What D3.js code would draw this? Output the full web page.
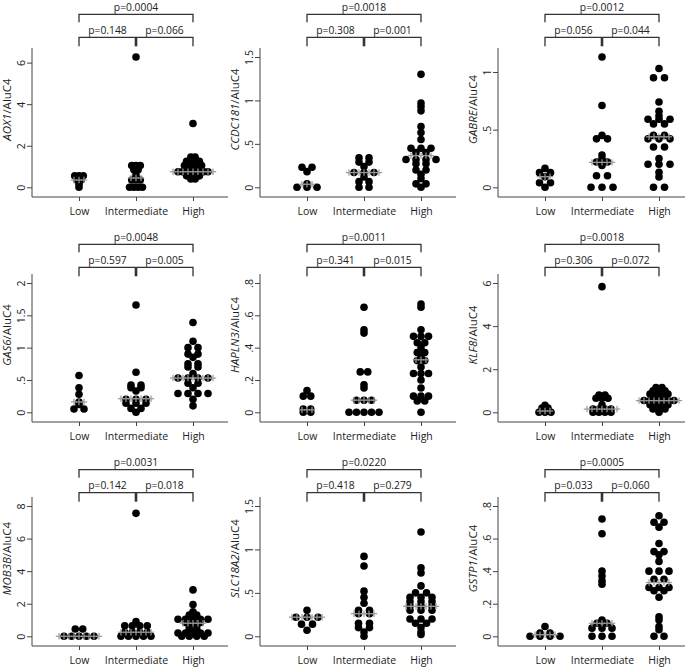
<!DOCTYPE html>
<html><head><meta charset="utf-8">
<script src="https://cdn.jsdelivr.net/npm/d3@7"></script>
<style>body{margin:0;background:#fff}svg{display:block}text{font-family:"Open Sans",sans-serif;fill:#222}</style>
</head><body><svg id="c" width="685" height="667"></svg>
<script>
// ---------------- data ----------------
const groups = ["Low", "Intermediate", "High"];
const genes = ["AOX1", "CCDC181", "GABRE", "GAS6", "HAPLN3", "KLF8", "MOB3B", "SLC18A2", "GSTP1"];
const yTicks = [[0,2,4,6],[0,.5,1,1.5],[0,.5,1],[0,.5,1,1.5,2],[0,.2,.4,.6,.8],[0,2,4,6],[0,2,4,6,8],[0,.5,1,1.5],[0,.2,.4,.6,.8]];
const pOverall = ["p=0.0004","p=0.0018","p=0.0012","p=0.0048","p=0.0011","p=0.0018","p=0.0031","p=0.0220","p=0.0005"];
const pLowInt  = ["p=0.148","p=0.308","p=0.056","p=0.597","p=0.341","p=0.306","p=0.142","p=0.418","p=0.033"];
const pIntHigh = ["p=0.066","p=0.001","p=0.044","p=0.005","p=0.015","p=0.072","p=0.018","p=0.279","p=0.060"];
const medians = [[0.35,0.45,0.75],[0.035,0.17,0.365],[0.092,0.216,0.438],[0.16,0.21,0.53],[0.015,0.075,0.325],[0.06,0.15,0.54],[0,0.25,0.8],[0.22,0.26,0.345],[0.01,0.08,0.33]];

const AOX1 = [
  [0.55,0.55,0.55,0.35,0.35,0.15,0],
  [6.27,1.05,1.05,1.05,0.85,0.85,0.6,0.45,0.35,0.35,0.35,0,0,0,0],
  [3.07,1.45,1.45,1.25,1.25,1.25,1.25,1.05,1.05,1.05,1.05,1.05,0.75,0.75,0.75,0.75,0.75,0.75,0.75,0.75,0.55,0.55,0.55,0.55,0.4,0.4]];
const CCDC181 = [
  [0.23,0.23,0.18,0.04,0,0,0],
  [0.34,0.34,0.29,0.29,0.24,0.17,0.17,0.17,0.12,0.065,0.065,0,0],
  [1.3,0.97,0.93,0.88,0.7,0.63,0.55,0.45,0.45,0.45,0.4,0.4,0.32,0.32,0.32,0.32,0.27,0.27,0.2,0.2,0.15,0.1,0.04,0.04,0]];
const GABRE = [
  [0.164,0.127,0.127,0.092,0.04,0.04,0],
  [1.13,0.71,0.45,0.42,0.42,0.28,0.25,0.22,0.22,0.19,0.1,0.1,0,0,0],
  [1.03,0.95,0.95,0.74,0.66,0.62,0.59,0.59,0.59,0.55,0.55,0.45,0.45,0.42,0.42,0.42,0.35,0.35,0.25,0.2,0.2,0.2,0.13,0.09,0,0]];
const GAS6 = [
  [0.57,0.38,0.28,0.16,0.12,0.05,0.05],
  [1.66,0.62,0.42,0.42,0.38,0.38,0.33,0.2,0.2,0.2,0.14,0.14,0.14,0.06,0.06,0],
  [1.39,1.1,1.0,1.0,0.9,0.9,0.85,0.75,0.75,0.7,0.7,0.6,0.53,0.53,0.53,0.53,0.45,0.45,0.38,0.29,0.29,0.29,0.29,0.2,0.1]];
const HAPLN3 = [
  [0.135,0.1,0.1,0.02,0.02,0,0],
  [0.65,0.51,0.49,0.25,0.25,0.17,0.15,0.075,0.075,0.075,0,0,0,0,0],
  [0.67,0.65,0.51,0.47,0.47,0.47,0.43,0.43,0.4,0.37,0.37,0.34,0.32,0.32,0.28,0.24,0.24,0.24,0.2,0.15,0.1,0.1,0.1,0.07,0.07,0]];
const KLF8 = [
  [0.33,0.2,0.2,0.05,0,0,0],
  [5.83,0.8,0.8,0.65,0.65,0.65,0.35,0.15,0.15,0.15,0.15,0,0,0,0],
  [1.15,1.15,1.0,1.0,1.0,0.85,0.85,0.85,0.85,0.7,0.7,0.7,0.55,0.55,0.55,0.55,0.55,0.55,0.35,0.35,0.35,0.35,0.15,0.15,0.15,0]];
const MOB3B = [
  [0.45,0.45,0,0,0,0,0],
  [7.55,0.9,0.65,0.65,0.65,0.65,0.25,0.25,0.25,0.25,0,0,0,0,0],
  [2.85,1.95,1.5,1.3,1.3,1.05,1.05,1.05,1.05,1.05,0.85,0.85,0.85,0.6,0.6,0.4,0.4,0.2,0.2,0.2,0.2,0.2,0,0,0,0]];
const SLC18A2 = [
  [0.3,0.22,0.22,0.22,0.14,0.14,0.07],
  [0.92,0.81,0.52,0.45,0.38,0.3,0.3,0.26,0.26,0.15,0.15,0.1,0.1,0.05,0],
  [1.2,0.79,0.73,0.58,0.5,0.5,0.45,0.45,0.45,0.4,0.4,0.4,0.35,0.35,0.35,0.3,0.3,0.3,0.2,0.2,0.2,0.15,0.15,0.1,0.05,0.02]];
const GSTP1 = [
  [0.06,0.02,0.02,0,0,0,0],
  [0.72,0.63,0.4,0.37,0.34,0.32,0.1,0.08,0.08,0.05,0.05,0.05,0,0,0],
  [0.74,0.7,0.7,0.67,0.57,0.52,0.52,0.5,0.46,0.4,0.4,0.4,0.35,0.35,0.3,0.3,0.3,0.28,0.28,0.24,0.12,0.1,0.06,0.04,0,0]];
const geneData = [AOX1, CCDC181, GABRE, GAS6, HAPLN3, KLF8, MOB3B, SLC18A2, GSTP1];

// ---------------- layout ----------------
const colAxisX = [32, 260, 498];
const rowGeom = [
  {axisTop: 48, xAxisY: 197, bracketY: 14.3, drop2: 9},
  {axisTop: 274, xAxisY: 422, bracketY: 244.3, drop2: 9},
  {axisTop: 497, xAxisY: 646, bracketY: 469.7, drop2: 9}];
const R = 3.8, SPAN = 30, SMAX = 11;
const axisCol = "#444", brCol = "#333", medCol = "#999";
const fmt = v => (v === 0 ? "0" : String(v).replace(/^0\./, "."));

const svg = d3.select("#c");

genes.forEach((gene, k) => {
  const col = k % 3, row = Math.floor(k / 3);
  const ax = colAxisX[col], g0 = rowGeom[row];
  const data = geneData[k];
  const ticks = yTicks[k];
  const top = Math.max(d3.max(data.flat()), d3.max(ticks));
  const y = d3.scaleLinear().domain([0, top]).range([g0.xAxisY - 9.7, g0.axisTop + 9]);
  const x = d3.scalePoint().domain(groups).range([ax + 47, ax + 161]);
  const g = svg.append("g");

  // dot spacing from widest row in panel
  const rowCounts = data.map(vals => d3.rollup(vals, v => v.length, d => d));
  const maxCount = d3.max(rowCounts, m => d3.max(m.values()));
  const s = maxCount > 1 ? Math.min(SMAX, SPAN / (maxCount - 1)) : SMAX;

  // y axis
  const yAxis = d3.axisLeft(y).tickValues(ticks).tickFormat(fmt).tickSize(5).tickSizeOuter(0);
  const ya = g.append("g").attr("transform", `translate(${ax},0)`).call(yAxis);
  ya.select(".domain").remove();
  ya.selectAll(".tick line").attr("stroke", axisCol);
  ya.selectAll(".tick text")
    .attr("x", null).attr("dy", "0.35em")
    .attr("transform", "translate(-11,0) rotate(-90)")
    .attr("text-anchor", "middle")
    .style("font-family", '"Open Sans",sans-serif').style("font-size", "10.5px").attr("fill", "#222");
  g.append("line").attr("x1", ax).attr("x2", ax).attr("y1", g0.axisTop).attr("y2", g0.xAxisY)
    .attr("stroke", axisCol).attr("stroke-width", 1);

  // x axis
  const xAxis = d3.axisBottom(x).tickSize(4).tickSizeOuter(0);
  const xa = g.append("g").attr("transform", `translate(0,${g0.xAxisY})`).call(xAxis);
  xa.select(".domain").remove();
  xa.selectAll(".tick line").attr("stroke", axisCol);
  xa.selectAll(".tick text").attr("y", 18).attr("dy", null)
    .style("font-family", '"Open Sans",sans-serif').style("font-size", "10.5px").attr("fill", "#222");
  g.append("line").attr("x1", ax).attr("x2", Math.min(ax + 196, 685)).attr("y1", g0.xAxisY).attr("y2", g0.xAxisY)
    .attr("stroke", axisCol).attr("stroke-width", 1);

  // y title
  const tcy = (g0.axisTop + g0.xAxisY) / 2 - 13;
  const tt = g.append("text").attr("transform", `translate(${ax - 25},${tcy}) rotate(-90)`)
    .attr("text-anchor", "middle").attr("dy", "0.35em").style("font-size", "11.5px");
  tt.append("tspan").style("font-style", "italic").text(gene);
  tt.append("tspan").text("/AluC4");

  // dots
  const pts = [];
  data.forEach((vals, gi) => {
    const cx = x(groups[gi]);
    rowCounts[gi].forEach((n, v) => {
      for (let i = 0; i < n; i++) pts.push({x: cx + (i - (n - 1) / 2) * s, y: y(v)});
    });
  });
  g.append("g").selectAll("circle").data(pts).join("circle")
    .attr("cx", d => d.x).attr("cy", d => d.y).attr("r", R).attr("fill", "#000");

  // median lines of + markers
  medians[k].forEach((m, gi) => {
    const cx = x(groups[gi]);
    const keys = Array.from(rowCounts[gi].keys());
    const near = keys.reduce((a, b) => Math.abs(b - m) < Math.abs(a - m) ? b : a);
    const n = rowCounts[gi].get(near);
    const half = Math.max(7, (n - 1) / 2 * s + 6);
    const kk = Math.floor(half / 5);
    const xs = d3.range(-kk, kk + 1).map(j => cx + j * 5);
    const my = y(m);
    const mg = g.append("g").attr("stroke", medCol).attr("stroke-width", 1.2);
    xs.forEach(px => {
      mg.append("line").attr("x1", px - 3.2).attr("x2", px + 3.2).attr("y1", my).attr("y2", my);
      mg.append("line").attr("x1", px).attr("x2", px).attr("y1", my - 3.2).attr("y2", my + 3.2);
    });
  });

  // brackets
  const xl = x("Low"), xi = x("Intermediate"), xh = x("High");
  const b1 = g0.bracketY, b2 = g0.bracketY + 23;
  const drop2 = g0.drop2;
  const bg = g.append("g").attr("fill", "none").attr("stroke", brCol).attr("stroke-width", 1.3);
  bg.append("path").attr("d", `M${xl},${b1 + 8}V${b1}H${xh}V${b1 + 8}`);
  bg.append("path").attr("d", `M${xl},${b2 + drop2}V${b2}H${xh}V${b2 + drop2}`);
  bg.append("line").attr("x1", xi).attr("x2", xi).attr("y1", b2).attr("y2", b2 + drop2).attr("stroke-width", 2.6);
  const tx = [[(xl + xh) / 2, b1 - 3.6, pOverall[k]], [(xl + xi) / 2, b2 - 3.6, pLowInt[k]], [(xi + xh) / 2, b2 - 3.6, pIntHigh[k]]];
  g.append("g").selectAll("text").data(tx).join("text")
    .attr("x", d => d[0]).attr("y", d => d[1]).attr("text-anchor", "middle")
    .style("font-size", "10.3px").text(d => d[2]);
});
</script></body></html>
